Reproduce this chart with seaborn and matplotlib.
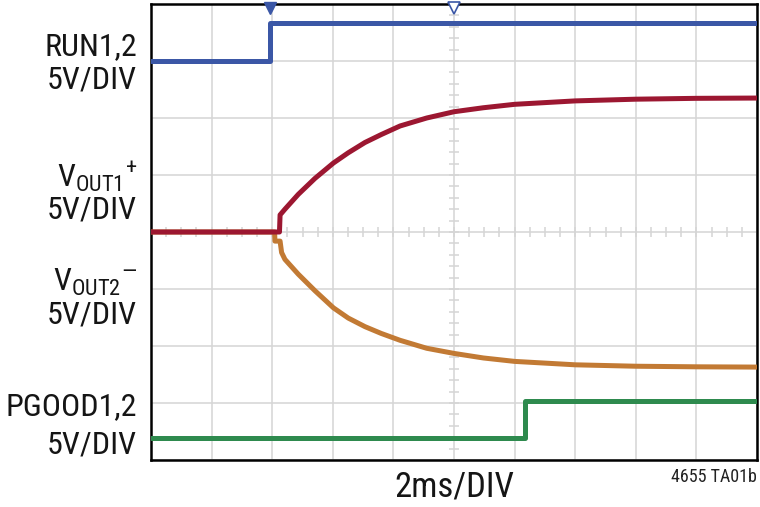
import numpy as np
import pandas as pd
import matplotlib
matplotlib.use('Agg')
import matplotlib.pyplot as plt
import seaborn as sns

# time in ms (2ms/DIV, 10 divisions), levels in screen divisions (0 = bottom, 8 = top)
run_t = [0.0, 3.94, 3.94, 20.0]
run_v = [7.0, 7.0, 7.66, 7.66]

vout1_t = [0.0, 4.24, 4.26, 4.42, 4.86, 5.41, 6.02, 6.51, 7.06, 7.6, 8.22, 9.10,
           10.0, 10.97, 12.0, 14.0, 16.0, 18.0, 20.0]
vout1_v = [4.0, 4.0, 4.30, 4.40, 4.66, 4.94, 5.21, 5.39, 5.57, 5.71, 5.86, 6.00,
           6.11, 6.18, 6.24, 6.30, 6.33, 6.345, 6.35]

vout2_t = [0.0, 4.08, 4.09, 4.26, 4.31, 4.42, 4.86, 5.41, 6.02, 6.51, 7.06, 7.6, 8.22, 9.10,
           10.0, 10.97, 12.0, 14.0, 16.0, 18.0, 20.0]
vout2_v = [4.0, 4.0, 3.84, 3.84, 3.64, 3.52, 3.26, 2.97, 2.67, 2.49, 2.34, 2.22, 2.10, 1.96,
           1.87, 1.79, 1.73, 1.67, 1.645, 1.635, 1.63]

pgood_t = [0.0, 12.34, 12.34, 20.0]
pgood_v = [0.38, 0.38, 1.03, 1.03]

trig_t = [3.94, 10.0]

COLORS = {
    'RUN': '#3b57a6',
    'VOUT2': '#c27a34',
    'VOUT1': '#9c1731',
    'PGOOD': '#2e8a4e',
}

traces = [('RUN', run_t, run_v), ('VOUT2', vout2_t, vout2_v),
          ('VOUT1', vout1_t, vout1_v), ('PGOOD', pgood_t, pgood_v)]
df = pd.concat([pd.DataFrame({'t': t, 'v': v, 'trace': name}) for name, t, v in traces],
               ignore_index=True)

sns.set_theme(style='white')
plt.rcParams['font.family'] = ['Roboto Condensed', 'DejaVu Sans']
plt.rcParams['mathtext.fontset'] = 'custom'
plt.rcParams['mathtext.rm'] = 'Roboto Condensed'
plt.rcParams['mathtext.it'] = 'Roboto Condensed'

fig = plt.figure(figsize=(7.6, 5.07), dpi=100)
ax = fig.add_axes([151 / 760, 1 - 460 / 507, 606 / 760, 456 / 507])

# graticule
grid_c = '#d5d5d5'
ax.set_xlim(0, 20)
ax.set_ylim(0, 8)
ax.set_xticks(np.arange(0, 21, 2))
ax.set_yticks(np.arange(0, 9, 1))
ax.grid(True, color=grid_c, lw=1.1)
ax.tick_params(length=0, labelbottom=False, labelleft=False)
mx = np.arange(0, 20.01, 0.5)
my = np.arange(0, 8.01, 0.2)
ax.plot(mx, np.full_like(mx, 4.0), ls='none', marker='|', ms=7, mew=1.1, color=grid_c, zorder=1)
ax.plot(np.full_like(my, 10.0), my, ls='none', marker='_', ms=7, mew=1.1, color=grid_c, zorder=1)

sns.lineplot(data=df, x='t', y='v', hue='trace', hue_order=list(COLORS), palette=COLORS,
             estimator=None, sort=False, lw=3.6, legend=False, ax=ax, zorder=3)
ax.set_xlabel('')
ax.set_ylabel('')

# trigger markers on the top edge
ax.plot(trig_t[:1], [7.93], marker='v', ms=8, color=COLORS['RUN'], clip_on=False, zorder=5)
ax.plot(trig_t[1:], [7.93], marker='v', ms=8, mfc='white', mec=COLORS['RUN'], mew=1.2,
        clip_on=False, zorder=5)

for s in ax.spines.values():
    s.set_color('black')
    s.set_linewidth(1.8)

# channel labels
lx = 137 / 760
lab = dict(ha='right', va='center', fontsize=23, color='#151515')
fig.text(lx, 1 - 47 / 507, 'RUN1,2', **lab)
fig.text(lx, 1 - 80 / 507, '5V/DIV', **lab)
fig.text(lx, 1 - 177 / 507, r'$\mathregular{V_{OUT1}{}^{+}}$', **lab)
fig.text(lx, 1 - 210 / 507, '5V/DIV', **lab)
fig.text(lx, 1 - 282 / 507, '$\\mathregular{V_{OUT2}{}^{\u2014}}$', **lab)
fig.text(lx, 1 - 315 / 507, '5V/DIV', **lab)
fig.text(lx, 1 - 407 / 507, 'PGOOD1,2', **lab)
fig.text(lx, 1 - 445 / 507, '5V/DIV', **lab)

fig.text(454 / 760, 1 - 487 / 507, '2ms/DIV', ha='center', va='center', fontsize=25, color='#151515')
fig.text(757 / 760, 1 - 477 / 507, '4655 TA01b', ha='right', va='center', fontsize=13,
         color='#222222')

fig.savefig('out.png', dpi=100)
